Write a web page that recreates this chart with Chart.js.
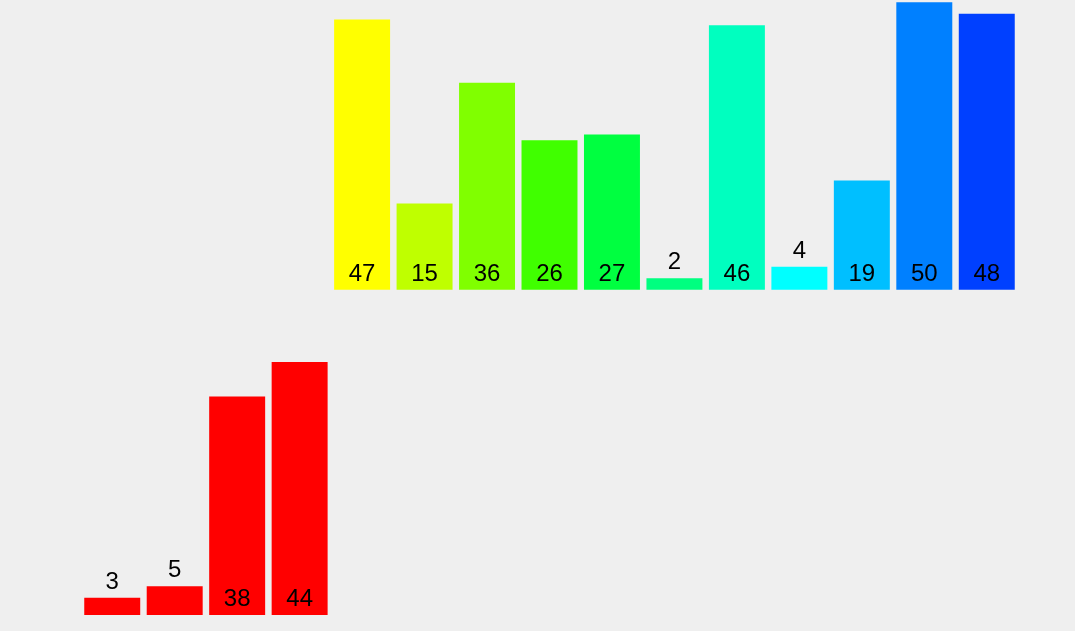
<!DOCTYPE html>
<html>
<head>
<meta charset="utf-8">
<script src="https://cdn.jsdelivr.net/npm/chart.js@4/dist/chart.umd.min.js"></script>
<style>
  html, body { margin: 0; padding: 0; background: #efefef; }
  #wrap { width: 1075px; height: 631px; }
</style>
</head>
<body>
<div id="wrap"><canvas id="c" width="1075" height="631"></canvas></div>
<script>
// ---- data ----
const bottomValues = [3, 5, 38, 44];
const topValues = [47, 15, 36, 26, 27, 2, 46, 4, 19, 50, 48];
const bottomColor = '#ff0000';
const topColors = ['#ffff00', '#bfff00', '#80ff00', '#40ff00', '#00ff40', '#00ff80',
                   '#00ffbf', '#00ffff', '#00bfff', '#0080ff', '#0040ff'];
const slotLabels = ['1','2','3','4','5','6','7','8','9','10','11','12','13','14','15'];

// layout constants (value units of the shared y scale)
const Y_MAX = 107;
const TOP_BASE = 56.6;

const nBottom = bottomValues.length;
const bottomLabelVals = slotLabels.map((_, i) => i < nBottom ? bottomValues[i] : null);
const topLabelVals = slotLabels.map((_, i) => i >= nBottom ? topValues[i - nBottom] : null);
const bottomData = bottomLabelVals.map(v => v === null ? null : [0, v]);
const topData = topLabelVals.map(v => v === null ? null : [TOP_BASE, TOP_BASE + v]);
const topBg = slotLabels.map((_, i) => i >= nBottom ? topColors[i - nBottom] : 'transparent');

const labelPlugin = {
  id: 'valueLabels',
  afterDatasetsDraw(chart) {
    const ctx = chart.ctx;
    ctx.save();
    ctx.font = '24px "Liberation Sans", Arial, sans-serif';
    ctx.fillStyle = '#000';
    ctx.textAlign = 'center';
    ctx.textBaseline = 'alphabetic';
    chart.data.datasets.forEach((ds, di) => {
      const meta = chart.getDatasetMeta(di);
      meta.data.forEach((bar, i) => {
        const v = ds.labelValues[i];
        if (v === null || v === undefined) return;
        const h = bar.base - bar.y;
        const y = h > 30 ? bar.base - 9 : bar.y - 9;
        ctx.fillText(String(v), bar.x, y);
      });
    });
    ctx.restore();
  }
};

new Chart(document.getElementById('c'), {
  type: 'bar',
  data: {
    labels: slotLabels,
    datasets: [
      { data: bottomData, labelValues: bottomLabelVals, backgroundColor: bottomColor, grouped: false,
        barPercentage: 0.896, categoryPercentage: 1, borderWidth: 0 },
      { data: topData, labelValues: topLabelVals, backgroundColor: topBg, grouped: false,
        barPercentage: 0.896, categoryPercentage: 1, borderWidth: 0 }
    ]
  },
  options: {
    responsive: false,
    animation: false,
    layout: { padding: { left: 81, right: 57, top: 0, bottom: 16 } },
    plugins: { legend: { display: false }, tooltip: { enabled: false } },
    scales: {
      x: { display: false },
      y: { display: false, min: 0, max: Y_MAX }
    }
  },
  plugins: [labelPlugin]
});
</script>
</body>
</html>
